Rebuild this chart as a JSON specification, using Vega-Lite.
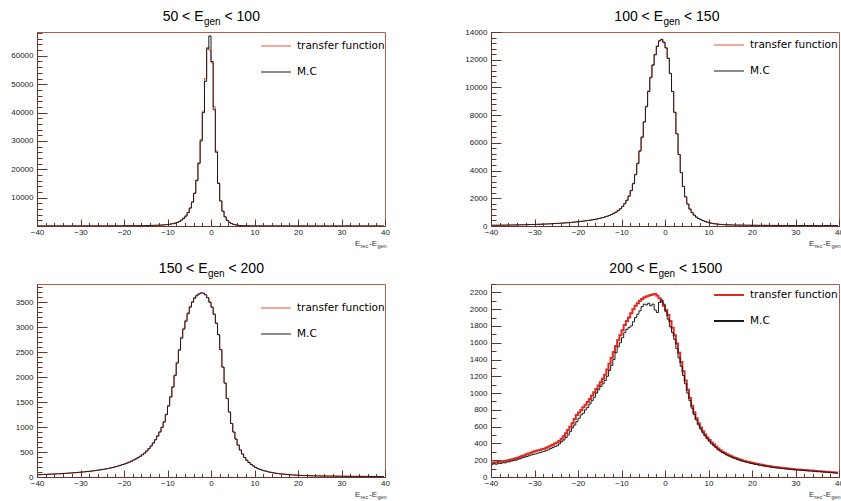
{
"$schema":"https://vega.github.io/schema/vega-lite/v6.json",
"background":"white",
"padding":{"left":10,"top":9,"right":0,"bottom":0},
"config":{"view":{"stroke":"#b0604a","strokeWidth":1},"font":"Liberation Sans","axis":{"grid":false,"title":null,"labelFont":"Liberation Sans","labelFontSize":8,"labelColor":"#222","domainColor":"#6a3428","tickColor":"#6a3428","labelFlush":false,"labelOverlap":false,"labelBound":false,"tickCount":200}},
"datasets":{"h":[
{"x":-39.75,"m1":20,"t1":20,"m2":50,"t2":51,"m3":45,"t3":46,"m4":150,"t4":168},
{"x":-39.25,"m1":20,"t1":20,"m2":52,"t2":52,"m3":47,"t3":47,"m4":158,"t4":172},
{"x":-38.75,"m1":21,"t1":21,"m2":54,"t2":55,"m3":49,"t3":50,"m4":152,"t4":176},
{"x":-38.25,"m1":21,"t1":21,"m2":56,"t2":56,"m3":51,"t3":51,"m4":165,"t4":180},
{"x":-37.75,"m1":22,"t1":22,"m2":58,"t2":59,"m3":53,"t3":54,"m4":160,"t4":184},
{"x":-37.25,"m1":22,"t1":22,"m2":60,"t2":60,"m3":55,"t3":55,"m4":170,"t4":188},
{"x":-36.75,"m1":23,"t1":23,"m2":62,"t2":63,"m3":57,"t3":58,"m4":168,"t4":192},
{"x":-36.25,"m1":23,"t1":23,"m2":65,"t2":65,"m3":59,"t3":59,"m4":178,"t4":197},
{"x":-35.75,"m1":24,"t1":24,"m2":68,"t2":68,"m3":61,"t3":62,"m4":182,"t4":202},
{"x":-35.25,"m1":24,"t1":24,"m2":71,"t2":71,"m3":63,"t3":64,"m4":190,"t4":208},
{"x":-34.75,"m1":25,"t1":25,"m2":74,"t2":74,"m3":66,"t3":66,"m4":195,"t4":215},
{"x":-34.25,"m1":25,"t1":25,"m2":77,"t2":78,"m3":68,"t3":69,"m4":200,"t4":222},
{"x":-33.75,"m1":26,"t1":26,"m2":80,"t2":81,"m3":71,"t3":72,"m4":212,"t4":230},
{"x":-33.25,"m1":26,"t1":26,"m2":84,"t2":84,"m3":74,"t3":74,"m4":218,"t4":240},
{"x":-32.75,"m1":27,"t1":27,"m2":88,"t2":88,"m3":77,"t3":78,"m4":228,"t4":250},
{"x":-32.25,"m1":27,"t1":27,"m2":92,"t2":93,"m3":80,"t3":81,"m4":235,"t4":260},
{"x":-31.75,"m1":28,"t1":28,"m2":96,"t2":97,"m3":83,"t3":84,"m4":245,"t4":270},
{"x":-31.25,"m1":28,"t1":28,"m2":100,"t2":101,"m3":86,"t3":87,"m4":252,"t4":280},
{"x":-30.75,"m1":29,"t1":29,"m2":105,"t2":106,"m3":90,"t3":91,"m4":262,"t4":290},
{"x":-30.25,"m1":30,"t1":30,"m2":110,"t2":111,"m3":94,"t3":95,"m4":270,"t4":300},
{"x":-29.75,"m1":31,"t1":31,"m2":115,"t2":116,"m3":98,"t3":99,"m4":275,"t4":310},
{"x":-29.25,"m1":32,"t1":32,"m2":120,"t2":121,"m3":102,"t3":103,"m4":285,"t4":316},
{"x":-28.75,"m1":33,"t1":33,"m2":126,"t2":127,"m3":106,"t3":107,"m4":290,"t4":322},
{"x":-28.25,"m1":34,"t1":34,"m2":132,"t2":133,"m3":111,"t3":112,"m4":298,"t4":330},
{"x":-27.75,"m1":35,"t1":35,"m2":138,"t2":139,"m3":116,"t3":117,"m4":305,"t4":338},
{"x":-27.25,"m1":36,"t1":36,"m2":145,"t2":146,"m3":121,"t3":122,"m4":318,"t4":348},
{"x":-26.75,"m1":37,"t1":37,"m2":152,"t2":153,"m3":127,"t3":128,"m4":325,"t4":360},
{"x":-26.25,"m1":38,"t1":38,"m2":160,"t2":161,"m3":133,"t3":134,"m4":340,"t4":372},
{"x":-25.75,"m1":40,"t1":40,"m2":168,"t2":169,"m3":139,"t3":140,"m4":350,"t4":385},
{"x":-25.25,"m1":42,"t1":42,"m2":177,"t2":178,"m3":146,"t3":147,"m4":362,"t4":398},
{"x":-24.75,"m1":44,"t1":44,"m2":186,"t2":187,"m3":153,"t3":154,"m4":372,"t4":412},
{"x":-24.25,"m1":46,"t1":46,"m2":196,"t2":197,"m3":160,"t3":161,"m4":395,"t4":430},
{"x":-23.75,"m1":48,"t1":48,"m2":206,"t2":207,"m3":168,"t3":169,"m4":420,"t4":455},
{"x":-23.25,"m1":50,"t1":50,"m2":217,"t2":218,"m3":177,"t3":178,"m4":440,"t4":485},
{"x":-22.75,"m1":53,"t1":53,"m2":229,"t2":230,"m3":187,"t3":188,"m4":470,"t4":520},
{"x":-22.25,"m1":56,"t1":56,"m2":241,"t2":242,"m3":198,"t3":199,"m4":500,"t4":560},
{"x":-21.75,"m1":59,"t1":59,"m2":254,"t2":255,"m3":210,"t3":211,"m4":540,"t4":600},
{"x":-21.25,"m1":63,"t1":63,"m2":268,"t2":269,"m3":222,"t3":223,"m4":585,"t4":640},
{"x":-20.75,"m1":67,"t1":67,"m2":283,"t2":284,"m3":235,"t3":236,"m4":620,"t4":690},
{"x":-20.25,"m1":71,"t1":71,"m2":299,"t2":300,"m3":249,"t3":250,"m4":660,"t4":740},
{"x":-19.75,"m1":76,"t1":76,"m2":316,"t2":317,"m3":264,"t3":265,"m4":700,"t4":770},
{"x":-19.25,"m1":81,"t1":81,"m2":334,"t2":335,"m3":280,"t3":281,"m4":740,"t4":795},
{"x":-18.75,"m1":87,"t1":87,"m2":353,"t2":354,"m3":298,"t3":299,"m4":760,"t4":830},
{"x":-18.25,"m1":93,"t1":93,"m2":373,"t2":374,"m3":318,"t3":319,"m4":800,"t4":860},
{"x":-17.75,"m1":100,"t1":100,"m2":394,"t2":396,"m3":340,"t3":341,"m4":830,"t4":895},
{"x":-17.25,"m1":108,"t1":108,"m2":417,"t2":419,"m3":363,"t3":364,"m4":870,"t4":930},
{"x":-16.75,"m1":117,"t1":117,"m2":442,"t2":444,"m3":388,"t3":390,"m4":910,"t4":970},
{"x":-16.25,"m1":127,"t1":127,"m2":470,"t2":472,"m3":415,"t3":417,"m4":950,"t4":1010},
{"x":-15.75,"m1":138,"t1":138,"m2":500,"t2":503,"m3":445,"t3":447,"m4":1000,"t4":1050},
{"x":-15.25,"m1":150,"t1":151,"m2":533,"t2":536,"m3":478,"t3":480,"m4":1040,"t4":1090},
{"x":-14.75,"m1":165,"t1":166,"m2":570,"t2":573,"m3":520,"t3":523,"m4":1080,"t4":1130},
{"x":-14.25,"m1":180,"t1":181,"m2":610,"t2":614,"m3":567,"t3":570,"m4":1110,"t4":1170},
{"x":-13.75,"m1":200,"t1":201,"m2":655,"t2":659,"m3":620,"t3":624,"m4":1150,"t4":1220},
{"x":-13.25,"m1":220,"t1":222,"m2":705,"t2":710,"m3":680,"t3":684,"m4":1200,"t4":1280},
{"x":-12.75,"m1":245,"t1":247,"m2":760,"t2":766,"m3":745,"t3":750,"m4":1270,"t4":1350},
{"x":-12.25,"m1":270,"t1":273,"m2":830,"t2":836,"m3":820,"t3":826,"m4":1330,"t4":1420},
{"x":-11.75,"m1":300,"t1":304,"m2":910,"t2":917,"m3":900,"t3":907,"m4":1400,"t4":1490},
{"x":-11.25,"m1":345,"t1":350,"m2":1000,"t2":1008,"m3":990,"t3":998,"m4":1480,"t4":1560},
{"x":-10.75,"m1":400,"t1":406,"m2":1110,"t2":1119,"m3":1100,"t3":1109,"m4":1550,"t4":1630},
{"x":-10.25,"m1":480,"t1":487,"m2":1240,"t2":1250,"m3":1250,"t3":1260,"m4":1600,"t4":1690},
{"x":-9.75,"m1":570,"t1":578,"m2":1400,"t2":1411,"m3":1420,"t3":1432,"m4":1660,"t4":1750},
{"x":-9.25,"m1":680,"t1":690,"m2":1600,"t2":1613,"m3":1600,"t3":1614,"m4":1720,"t4":1810},
{"x":-8.75,"m1":820,"t1":833,"m2":1850,"t2":1865,"m3":1800,"t3":1815,"m4":1760,"t4":1860},
{"x":-8.25,"m1":1000,"t1":1015,"m2":2150,"t2":2168,"m3":2030,"t3":2046,"m4":1780,"t4":1900},
{"x":-7.75,"m1":1250,"t1":1270,"m2":2550,"t2":2570,"m3":2280,"t3":2298,"m4":1800,"t4":1950},
{"x":-7.25,"m1":1600,"t1":1625,"m2":3050,"t2":3075,"m3":2540,"t3":2560,"m4":1850,"t4":2000},
{"x":-6.75,"m1":2100,"t1":2130,"m2":3700,"t2":3730,"m3":2780,"t3":2800,"m4":1900,"t4":2040},
{"x":-6.25,"m1":2700,"t1":2740,"m2":4500,"t2":4535,"m3":2960,"t3":2980,"m4":1940,"t4":2070},
{"x":-5.75,"m1":3500,"t1":3550,"m2":5400,"t2":5440,"m3":3120,"t3":3140,"m4":1980,"t4":2100},
{"x":-5.25,"m1":4700,"t1":4770,"m2":6400,"t2":6445,"m3":3270,"t3":3290,"m4":2030,"t4":2120},
{"x":-4.75,"m1":6300,"t1":6390,"m2":7500,"t2":7550,"m3":3400,"t3":3420,"m4":2060,"t4":2140},
{"x":-4.25,"m1":8400,"t1":8520,"m2":8600,"t2":8650,"m3":3500,"t3":3515,"m4":2050,"t4":2150},
{"x":-3.75,"m1":11500,"t1":11650,"m2":9700,"t2":9750,"m3":3580,"t3":3595,"m4":2070,"t4":2160},
{"x":-3.25,"m1":16000,"t1":16200,"m2":10700,"t2":10750,"m3":3630,"t3":3645,"m4":2040,"t4":2170},
{"x":-2.75,"m1":22000,"t1":22300,"m2":11600,"t2":11650,"m3":3665,"t3":3675,"m4":2060,"t4":2175},
{"x":-2.25,"m1":30000,"t1":30500,"m2":12350,"t2":12400,"m3":3685,"t3":3690,"m4":1990,"t4":2180},
{"x":-1.75,"m1":40000,"t1":40500,"m2":12950,"t2":13000,"m3":3680,"t3":3685,"m4":1960,"t4":2160},
{"x":-1.25,"m1":51000,"t1":52000,"m2":13350,"t2":13400,"m3":3650,"t3":3655,"m4":2080,"t4":2130},
{"x":-0.75,"m1":62500,"t1":63000,"m2":13450,"t2":13480,"m3":3590,"t3":3595,"m4":2110,"t4":2090},
{"x":-0.25,"m1":67000,"t1":62000,"m2":13250,"t2":13280,"m3":3500,"t3":3505,"m4":2060,"t4":2040},
{"x":0.25,"m1":58000,"t1":57500,"m2":12850,"t2":12870,"m3":3400,"t3":3405,"m4":1970,"t4":1990},
{"x":0.75,"m1":41000,"t1":42000,"m2":12100,"t2":12120,"m3":3260,"t3":3265,"m4":1880,"t4":1930},
{"x":1.25,"m1":26000,"t1":26500,"m2":11000,"t2":11020,"m3":3080,"t3":3085,"m4":1790,"t4":1860},
{"x":1.75,"m1":15000,"t1":15200,"m2":9700,"t2":9720,"m3":2850,"t3":2855,"m4":1720,"t4":1780},
{"x":2.25,"m1":8800,"t1":8900,"m2":8200,"t2":8220,"m3":2550,"t3":2555,"m4":1640,"t4":1690},
{"x":2.75,"m1":5200,"t1":5260,"m2":6650,"t2":6665,"m3":2200,"t3":2205,"m4":1530,"t4":1590},
{"x":3.25,"m1":3200,"t1":3240,"m2":5150,"t2":5160,"m3":1880,"t3":1884,"m4":1420,"t4":1480},
{"x":3.75,"m1":2000,"t1":2025,"m2":3850,"t2":3860,"m3":1570,"t3":1574,"m4":1320,"t4":1370},
{"x":4.25,"m1":1300,"t1":1315,"m2":2850,"t2":2857,"m3":1300,"t3":1303,"m4":1210,"t4":1260},
{"x":4.75,"m1":850,"t1":860,"m2":2100,"t2":2105,"m3":1070,"t3":1072,"m4":1110,"t4":1150},
{"x":5.25,"m1":560,"t1":566,"m2":1580,"t2":1584,"m3":900,"t3":902,"m4":1000,"t4":1040},
{"x":5.75,"m1":370,"t1":374,"m2":1220,"t2":1223,"m3":760,"t3":761,"m4":910,"t4":940},
{"x":6.25,"m1":250,"t1":253,"m2":960,"t2":962,"m3":640,"t3":641,"m4":820,"t4":850},
{"x":6.75,"m1":170,"t1":172,"m2":780,"t2":782,"m3":540,"t3":541,"m4":745,"t4":770},
{"x":7.25,"m1":120,"t1":121,"m2":640,"t2":641,"m3":460,"t3":461,"m4":680,"t4":700},
{"x":7.75,"m1":90,"t1":91,"m2":540,"t2":541,"m3":390,"t3":391,"m4":620,"t4":640},
{"x":8.25,"m1":70,"t1":70,"m2":460,"t2":461,"m3":335,"t3":336,"m4":570,"t4":590},
{"x":8.75,"m1":55,"t1":55,"m2":390,"t2":391,"m3":290,"t3":291,"m4":525,"t4":545},
{"x":9.25,"m1":45,"t1":45,"m2":330,"t2":331,"m3":252,"t3":253,"m4":490,"t4":505},
{"x":9.75,"m1":38,"t1":38,"m2":275,"t2":276,"m3":220,"t3":221,"m4":455,"t4":470},
{"x":10.25,"m1":33,"t1":33,"m2":230,"t2":231,"m3":193,"t3":194,"m4":425,"t4":440},
{"x":10.75,"m1":29,"t1":29,"m2":195,"t2":196,"m3":171,"t3":172,"m4":395,"t4":412},
{"x":11.25,"m1":26,"t1":26,"m2":168,"t2":169,"m3":153,"t3":154,"m4":372,"t4":386},
{"x":11.75,"m1":23,"t1":23,"m2":146,"t2":147,"m3":138,"t3":139,"m4":350,"t4":362},
{"x":12.25,"m1":21,"t1":21,"m2":128,"t2":129,"m3":125,"t3":126,"m4":325,"t4":340},
{"x":12.75,"m1":20,"t1":20,"m2":114,"t2":115,"m3":113,"t3":114,"m4":310,"t4":320},
{"x":13.25,"m1":19,"t1":19,"m2":103,"t2":104,"m3":102,"t3":103,"m4":292,"t4":302},
{"x":13.75,"m1":18,"t1":18,"m2":94,"t2":95,"m3":93,"t3":94,"m4":276,"t4":286},
{"x":14.25,"m1":17,"t1":17,"m2":87,"t2":88,"m3":85,"t3":86,"m4":262,"t4":272},
{"x":14.75,"m1":16,"t1":16,"m2":81,"t2":82,"m3":78,"t3":79,"m4":250,"t4":259},
{"x":15.25,"m1":16,"t1":16,"m2":76,"t2":77,"m3":71,"t3":72,"m4":240,"t4":247},
{"x":15.75,"m1":15,"t1":15,"m2":72,"t2":73,"m3":65,"t3":66,"m4":226,"t4":236},
{"x":16.25,"m1":15,"t1":15,"m2":68,"t2":69,"m3":60,"t3":61,"m4":218,"t4":226},
{"x":16.75,"m1":14,"t1":14,"m2":65,"t2":66,"m3":56,"t3":57,"m4":206,"t4":217},
{"x":17.25,"m1":14,"t1":14,"m2":62,"t2":63,"m3":52,"t3":53,"m4":200,"t4":208},
{"x":17.75,"m1":13,"t1":13,"m2":60,"t2":61,"m3":48,"t3":49,"m4":190,"t4":200},
{"x":18.25,"m1":13,"t1":13,"m2":58,"t2":59,"m3":45,"t3":46,"m4":184,"t4":192},
{"x":18.75,"m1":13,"t1":13,"m2":56,"t2":57,"m3":42,"t3":43,"m4":175,"t4":185},
{"x":19.25,"m1":12,"t1":12,"m2":54,"t2":55,"m3":39,"t3":40,"m4":170,"t4":178},
{"x":19.75,"m1":12,"t1":12,"m2":52,"t2":53,"m3":36,"t3":37,"m4":162,"t4":172},
{"x":20.25,"m1":12,"t1":12,"m2":50,"t2":51,"m3":34,"t3":35,"m4":158,"t4":166},
{"x":20.75,"m1":11,"t1":11,"m2":49,"t2":50,"m3":32,"t3":33,"m4":150,"t4":160},
{"x":21.25,"m1":11,"t1":11,"m2":48,"t2":49,"m3":30,"t3":31,"m4":148,"t4":155},
{"x":21.75,"m1":11,"t1":11,"m2":47,"t2":48,"m3":28,"t3":29,"m4":140,"t4":150},
{"x":22.25,"m1":11,"t1":11,"m2":46,"t2":47,"m3":26,"t3":27,"m4":138,"t4":145},
{"x":22.75,"m1":10,"t1":10,"m2":45,"t2":46,"m3":25,"t3":26,"m4":132,"t4":140},
{"x":23.25,"m1":10,"t1":10,"m2":44,"t2":45,"m3":24,"t3":25,"m4":128,"t4":135},
{"x":23.75,"m1":10,"t1":10,"m2":43,"t2":44,"m3":23,"t3":24,"m4":122,"t4":131},
{"x":24.25,"m1":10,"t1":10,"m2":42,"t2":43,"m3":22,"t3":23,"m4":120,"t4":127},
{"x":24.75,"m1":10,"t1":10,"m2":41,"t2":42,"m3":21,"t3":22,"m4":115,"t4":123},
{"x":25.25,"m1":9,"t1":9,"m2":40,"t2":41,"m3":20,"t3":21,"m4":112,"t4":119},
{"x":25.75,"m1":9,"t1":9,"m2":40,"t2":40,"m3":20,"t3":20,"m4":108,"t4":115},
{"x":26.25,"m1":9,"t1":9,"m2":39,"t2":40,"m3":19,"t3":20,"m4":106,"t4":112},
{"x":26.75,"m1":9,"t1":9,"m2":39,"t2":39,"m3":19,"t3":19,"m4":102,"t4":109},
{"x":27.25,"m1":9,"t1":9,"m2":38,"t2":39,"m3":18,"t3":19,"m4":100,"t4":106},
{"x":27.75,"m1":9,"t1":9,"m2":38,"t2":38,"m3":18,"t3":18,"m4":96,"t4":103},
{"x":28.25,"m1":9,"t1":9,"m2":37,"t2":38,"m3":17,"t3":18,"m4":95,"t4":100},
{"x":28.75,"m1":9,"t1":9,"m2":37,"t2":37,"m3":17,"t3":17,"m4":91,"t4":97},
{"x":29.25,"m1":9,"t1":9,"m2":36,"t2":37,"m3":16,"t3":17,"m4":88,"t4":94},
{"x":29.75,"m1":9,"t1":9,"m2":36,"t2":36,"m3":16,"t3":16,"m4":87,"t4":92},
{"x":30.25,"m1":9,"t1":9,"m2":35,"t2":36,"m3":15,"t3":16,"m4":84,"t4":90},
{"x":30.75,"m1":9,"t1":9,"m2":35,"t2":35,"m3":15,"t3":15,"m4":83,"t4":88},
{"x":31.25,"m1":9,"t1":9,"m2":34,"t2":35,"m3":14,"t3":15,"m4":80,"t4":86},
{"x":31.75,"m1":9,"t1":9,"m2":34,"t2":34,"m3":14,"t3":14,"m4":79,"t4":84},
{"x":32.25,"m1":8,"t1":8,"m2":33,"t2":34,"m3":13,"t3":14,"m4":76,"t4":82},
{"x":32.75,"m1":8,"t1":8,"m2":33,"t2":33,"m3":13,"t3":13,"m4":75,"t4":80},
{"x":33.25,"m1":8,"t1":8,"m2":33,"t2":33,"m3":13,"t3":13,"m4":72,"t4":78},
{"x":33.75,"m1":8,"t1":8,"m2":32,"t2":33,"m3":12,"t3":13,"m4":71,"t4":76},
{"x":34.25,"m1":8,"t1":8,"m2":32,"t2":32,"m3":12,"t3":12,"m4":68,"t4":74},
{"x":34.75,"m1":8,"t1":8,"m2":32,"t2":32,"m3":12,"t3":12,"m4":67,"t4":72},
{"x":35.25,"m1":8,"t1":8,"m2":31,"t2":32,"m3":12,"t3":12,"m4":64,"t4":70},
{"x":35.75,"m1":8,"t1":8,"m2":31,"t2":31,"m3":11,"t3":12,"m4":63,"t4":68},
{"x":36.25,"m1":8,"t1":8,"m2":31,"t2":31,"m3":11,"t3":11,"m4":60,"t4":66},
{"x":36.75,"m1":8,"t1":8,"m2":30,"t2":31,"m3":11,"t3":11,"m4":59,"t4":64},
{"x":37.25,"m1":8,"t1":8,"m2":30,"t2":30,"m3":11,"t3":11,"m4":56,"t4":62},
{"x":37.75,"m1":8,"t1":8,"m2":30,"t2":30,"m3":10,"t3":11,"m4":55,"t4":60},
{"x":38.25,"m1":8,"t1":8,"m2":29,"t2":30,"m3":10,"t3":10,"m4":52,"t4":58},
{"x":38.75,"m1":8,"t1":8,"m2":29,"t2":29,"m3":10,"t3":10,"m4":51,"t4":56},
{"x":39.25,"m1":8,"t1":8,"m2":29,"t2":29,"m3":10,"t3":10,"m4":48,"t4":54},
{"x":39.75,"m1":8,"t1":8,"m2":28,"t2":29,"m3":10,"t3":10,"m4":46,"t4":52}
]},
"bounds":"flush",
"columns":2,
"spacing":{"row":58,"column":106},
"resolve":{"scale":{"x":"independent","y":"independent","color":"independent"},"legend":{"color":"independent"}},
"concat":[
{"width":348,"height":194,"layer":[
 {"data":{"name":"h"},"transform":[{"fold":["t1","m1"],"as":["s","v"]},{"filter":"datum.s == 't1'"}],
  "mark":{"type":"line","interpolate":"step","strokeWidth":1,"clip":true},
  "encoding":{
   "x":{"field":"x","type":"quantitative","scale":{"domain":[-40,40],"nice":false,"zero":false},"axis":{"values":[-40,-38,-36,-34,-32,-30,-28,-26,-24,-22,-20,-18,-16,-14,-12,-10,-8,-6,-4,-2,0,2,4,6,8,10,12,14,16,18,20,22,24,26,28,30,32,34,36,38,40],"format":"d","tickCount":200,"labelOverlap":false,"labelExpr":"datum.value % 10 == 0 ? datum.label : ''","tickSize":{"condition":{"test":"datum.value % 10 == 0","value":-7},"value":-3.5},"labelPadding":9}},
   "y":{"field":"v","type":"quantitative","scale":{"domain":[0,68400],"nice":false},"axis":{"values":[0,2000,4000,6000,8000,10000,12000,14000,16000,18000,20000,22000,24000,26000,28000,30000,32000,34000,36000,38000,40000,42000,44000,46000,48000,50000,52000,54000,56000,58000,60000,62000,64000,66000,68000],"tickCount":200,"labelOverlap":false,"format":"d","labelExpr":"datum.value % 10000 == 0 && datum.value > 0 ? datum.label : ''","tickSize":{"condition":{"test":"datum.value % 10000 == 0","value":-10},"value":-5},"labelPadding":14}},
   "color":{"field":"s","type":"nominal","scale":{"domain":["t1","m1"],"range":["#e8503c","#1a1a1a"]},"legend":{"orient":"none","legendX":223,"legendY":4,"title":null,"symbolType":"stroke","symbolSize":900,"symbolStrokeWidth":1.2,"clipHeight":20,"rowPadding":6,"labelOffset":5,"labelFont":"DejaVu Sans","labelFontSize":10.5,"labelColor":"#000","padding":0,"labelExpr":"datum.label == 't1' ? 'transfer function' : 'M.C'"}}}},
 {"data":{"name":"h"},"transform":[{"fold":["t1","m1"],"as":["s","v"]},{"filter":"datum.s == 'm1'"}],
  "mark":{"type":"line","interpolate":"step","strokeWidth":1,"clip":true},
  "encoding":{"x":{"field":"x","type":"quantitative"},"y":{"field":"v","type":"quantitative"},"color":{"field":"s","type":"nominal"}}},
 {"data":{"values":[{}]},"mark":{"type":"text","text":"50 < E","x":166.5,"y":-11,"align":"right","baseline":"alphabetic","fontSize":14,"font":"Liberation Sans","color":"#000"}},
 {"data":{"values":[{}]},"mark":{"type":"text","text":"gen","x":167,"y":-7.5,"align":"left","baseline":"alphabetic","fontSize":10,"font":"Liberation Sans","color":"#000"}},
 {"data":{"values":[{}]},"mark":{"type":"text","text":"< 100","x":187.5,"y":-11,"align":"left","baseline":"alphabetic","fontSize":14,"font":"Liberation Sans","color":"#000"}},
 {"data":{"values":[{}]},"mark":{"type":"text","text":"E","x":318,"y":214,"align":"left","baseline":"alphabetic","fontSize":8,"font":"Liberation Sans","color":"#333"}},
 {"data":{"values":[{}]},"mark":{"type":"text","text":"rec","x":323.5,"y":216,"align":"left","baseline":"alphabetic","fontSize":5.5,"font":"Liberation Sans","color":"#333"}},
 {"data":{"values":[{}]},"mark":{"type":"text","text":"-E","x":332,"y":214,"align":"left","baseline":"alphabetic","fontSize":8,"font":"Liberation Sans","color":"#333"}},
 {"data":{"values":[{}]},"mark":{"type":"text","text":"gen","x":340.5,"y":216,"align":"left","baseline":"alphabetic","fontSize":5.5,"font":"Liberation Sans","color":"#333"}}
]},
{"width":348,"height":194,"layer":[
 {"data":{"name":"h"},"transform":[{"fold":["t2","m2"],"as":["s","v"]},{"filter":"datum.s == 't2'"}],
  "mark":{"type":"line","interpolate":"step","strokeWidth":1,"clip":true},
  "encoding":{
   "x":{"field":"x","type":"quantitative","scale":{"domain":[-40,40],"nice":false,"zero":false},"axis":{"values":[-40,-38,-36,-34,-32,-30,-28,-26,-24,-22,-20,-18,-16,-14,-12,-10,-8,-6,-4,-2,0,2,4,6,8,10,12,14,16,18,20,22,24,26,28,30,32,34,36,38,40],"format":"d","tickCount":200,"labelOverlap":false,"labelExpr":"datum.value % 10 == 0 ? datum.label : ''","tickSize":{"condition":{"test":"datum.value % 10 == 0","value":-7},"value":-3.5},"labelPadding":9}},
   "y":{"field":"v","type":"quantitative","scale":{"domain":[0,14000],"nice":false},"axis":{"values":[0,400,800,1200,1600,2000,2400,2800,3200,3600,4000,4400,4800,5200,5600,6000,6400,6800,7200,7600,8000,8400,8800,9200,9600,10000,10400,10800,11200,11600,12000,12400,12800,13200,13600,14000],"tickCount":200,"labelOverlap":false,"format":"d","labelExpr":"datum.value % 2000 == 0 ? datum.label : ''","tickSize":{"condition":{"test":"datum.value % 2000 == 0","value":-10},"value":-5},"labelPadding":14}},
   "color":{"field":"s","type":"nominal","scale":{"domain":["t2","m2"],"range":["#e8503c","#1a1a1a"]},"legend":{"orient":"none","legendX":222,"legendY":3,"title":null,"symbolType":"stroke","symbolSize":900,"symbolStrokeWidth":1.2,"clipHeight":20,"rowPadding":6,"labelOffset":5,"labelFont":"DejaVu Sans","labelFontSize":10.5,"labelColor":"#000","padding":0,"labelExpr":"datum.label == 't2' ? 'transfer function' : 'M.C'"}}}},
 {"data":{"name":"h"},"transform":[{"fold":["t2","m2"],"as":["s","v"]},{"filter":"datum.s == 'm2'"}],
  "mark":{"type":"line","interpolate":"step","strokeWidth":1,"clip":true},
  "encoding":{"x":{"field":"x","type":"quantitative"},"y":{"field":"v","type":"quantitative"},"color":{"field":"s","type":"nominal"}}},
 {"data":{"values":[{}]},"mark":{"type":"text","text":"100 < E","x":172,"y":-11,"align":"right","baseline":"alphabetic","fontSize":14,"font":"Liberation Sans","color":"#000"}},
 {"data":{"values":[{}]},"mark":{"type":"text","text":"gen","x":172.5,"y":-7.5,"align":"left","baseline":"alphabetic","fontSize":10,"font":"Liberation Sans","color":"#000"}},
 {"data":{"values":[{}]},"mark":{"type":"text","text":"< 150","x":193,"y":-11,"align":"left","baseline":"alphabetic","fontSize":14,"font":"Liberation Sans","color":"#000"}},
 {"data":{"values":[{}]},"mark":{"type":"text","text":"E","x":318,"y":214,"align":"left","baseline":"alphabetic","fontSize":8,"font":"Liberation Sans","color":"#333"}},
 {"data":{"values":[{}]},"mark":{"type":"text","text":"rec","x":323.5,"y":216,"align":"left","baseline":"alphabetic","fontSize":5.5,"font":"Liberation Sans","color":"#333"}},
 {"data":{"values":[{}]},"mark":{"type":"text","text":"-E","x":332,"y":214,"align":"left","baseline":"alphabetic","fontSize":8,"font":"Liberation Sans","color":"#333"}},
 {"data":{"values":[{}]},"mark":{"type":"text","text":"gen","x":340.5,"y":216,"align":"left","baseline":"alphabetic","fontSize":5.5,"font":"Liberation Sans","color":"#333"}}
]},
{"width":348,"height":193,"layer":[
 {"data":{"name":"h"},"transform":[{"fold":["t3","m3"],"as":["s","v"]},{"filter":"datum.s == 't3'"}],
  "mark":{"type":"line","interpolate":"step","strokeWidth":1,"clip":true},
  "encoding":{
   "x":{"field":"x","type":"quantitative","scale":{"domain":[-40,40],"nice":false,"zero":false},"axis":{"values":[-40,-38,-36,-34,-32,-30,-28,-26,-24,-22,-20,-18,-16,-14,-12,-10,-8,-6,-4,-2,0,2,4,6,8,10,12,14,16,18,20,22,24,26,28,30,32,34,36,38,40],"format":"d","tickCount":200,"labelOverlap":false,"labelExpr":"datum.value % 10 == 0 ? datum.label : ''","tickSize":{"condition":{"test":"datum.value % 10 == 0","value":-7},"value":-3.5},"labelPadding":9}},
   "y":{"field":"v","type":"quantitative","scale":{"domain":[0,3866],"nice":false},"axis":{"values":[0,100,200,300,400,500,600,700,800,900,1000,1100,1200,1300,1400,1500,1600,1700,1800,1900,2000,2100,2200,2300,2400,2500,2600,2700,2800,2900,3000,3100,3200,3300,3400,3500,3600,3700,3800],"tickCount":200,"labelOverlap":false,"format":"d","labelExpr":"datum.value % 500 == 0 ? datum.label : ''","tickSize":{"condition":{"test":"datum.value % 500 == 0","value":-10},"value":-5},"labelPadding":14}},
   "color":{"field":"s","type":"nominal","scale":{"domain":["t3","m3"],"range":["#e8503c","#1a1a1a"]},"legend":{"orient":"none","legendX":223,"legendY":14,"title":null,"symbolType":"stroke","symbolSize":900,"symbolStrokeWidth":1.2,"clipHeight":20,"rowPadding":6,"labelOffset":5,"labelFont":"DejaVu Sans","labelFontSize":10.5,"labelColor":"#000","padding":0,"labelExpr":"datum.label == 't3' ? 'transfer function' : 'M.C'"}}}},
 {"data":{"name":"h"},"transform":[{"fold":["t3","m3"],"as":["s","v"]},{"filter":"datum.s == 'm3'"}],
  "mark":{"type":"line","interpolate":"step","strokeWidth":1,"clip":true},
  "encoding":{"x":{"field":"x","type":"quantitative"},"y":{"field":"v","type":"quantitative"},"color":{"field":"s","type":"nominal"}}},
 {"data":{"values":[{}]},"mark":{"type":"text","text":"150 < E","x":170.5,"y":-11,"align":"right","baseline":"alphabetic","fontSize":14,"font":"Liberation Sans","color":"#000"}},
 {"data":{"values":[{}]},"mark":{"type":"text","text":"gen","x":171,"y":-7.5,"align":"left","baseline":"alphabetic","fontSize":10,"font":"Liberation Sans","color":"#000"}},
 {"data":{"values":[{}]},"mark":{"type":"text","text":"< 200","x":191.5,"y":-11,"align":"left","baseline":"alphabetic","fontSize":14,"font":"Liberation Sans","color":"#000"}},
 {"data":{"values":[{}]},"mark":{"type":"text","text":"E","x":318,"y":213,"align":"left","baseline":"alphabetic","fontSize":8,"font":"Liberation Sans","color":"#333"}},
 {"data":{"values":[{}]},"mark":{"type":"text","text":"rec","x":323.5,"y":215,"align":"left","baseline":"alphabetic","fontSize":5.5,"font":"Liberation Sans","color":"#333"}},
 {"data":{"values":[{}]},"mark":{"type":"text","text":"-E","x":332,"y":213,"align":"left","baseline":"alphabetic","fontSize":8,"font":"Liberation Sans","color":"#333"}},
 {"data":{"values":[{}]},"mark":{"type":"text","text":"gen","x":340.5,"y":215,"align":"left","baseline":"alphabetic","fontSize":5.5,"font":"Liberation Sans","color":"#333"}}
]},
{"width":348,"height":193,"layer":[
 {"data":{"name":"h"},"transform":[{"fold":["t4","m4"],"as":["s","v"]},{"filter":"datum.s == 't4'"}],
  "mark":{"type":"line","interpolate":"step","strokeWidth":2,"clip":true},
  "encoding":{
   "x":{"field":"x","type":"quantitative","scale":{"domain":[-40,40],"nice":false,"zero":false},"axis":{"values":[-40,-38,-36,-34,-32,-30,-28,-26,-24,-22,-20,-18,-16,-14,-12,-10,-8,-6,-4,-2,0,2,4,6,8,10,12,14,16,18,20,22,24,26,28,30,32,34,36,38,40],"format":"d","tickCount":200,"labelOverlap":false,"labelExpr":"datum.value % 10 == 0 ? datum.label : ''","tickSize":{"condition":{"test":"datum.value % 10 == 0","value":-7},"value":-3.5},"labelPadding":9}},
   "y":{"field":"v","type":"quantitative","scale":{"domain":[0,2300],"nice":false},"axis":{"values":[0,100,200,300,400,500,600,700,800,900,1000,1100,1200,1300,1400,1500,1600,1700,1800,1900,2000,2100,2200,2300],"tickCount":200,"labelOverlap":false,"format":"d","labelExpr":"datum.value % 200 == 0 ? datum.label : ''","tickSize":{"condition":{"test":"datum.value % 200 == 0","value":-10},"value":-5},"labelPadding":14}},
   "color":{"field":"s","type":"nominal","scale":{"domain":["t4","m4"],"range":["#dc2a24","#1a1a1a"]},"legend":{"orient":"none","legendX":222,"legendY":1,"title":null,"symbolType":"stroke","symbolSize":900,"symbolStrokeWidth":2,"clipHeight":20,"rowPadding":6,"labelOffset":5,"labelFont":"DejaVu Sans","labelFontSize":10.5,"labelColor":"#000","padding":0,"labelExpr":"datum.label == 't4' ? 'transfer function' : 'M.C'"}}}},
 {"data":{"name":"h"},"transform":[{"fold":["t4","m4"],"as":["s","v"]},{"filter":"datum.s == 'm4'"}],
  "mark":{"type":"line","interpolate":"step","strokeWidth":1,"clip":true},
  "encoding":{"x":{"field":"x","type":"quantitative"},"y":{"field":"v","type":"quantitative"},"color":{"field":"s","type":"nominal"}}},
 {"data":{"values":[{}]},"mark":{"type":"text","text":"200 < E","x":167,"y":-11,"align":"right","baseline":"alphabetic","fontSize":14,"font":"Liberation Sans","color":"#000"}},
 {"data":{"values":[{}]},"mark":{"type":"text","text":"gen","x":167.5,"y":-7.5,"align":"left","baseline":"alphabetic","fontSize":10,"font":"Liberation Sans","color":"#000"}},
 {"data":{"values":[{}]},"mark":{"type":"text","text":"< 1500","x":188,"y":-11,"align":"left","baseline":"alphabetic","fontSize":14,"font":"Liberation Sans","color":"#000"}},
 {"data":{"values":[{}]},"mark":{"type":"text","text":"E","x":318,"y":213,"align":"left","baseline":"alphabetic","fontSize":8,"font":"Liberation Sans","color":"#333"}},
 {"data":{"values":[{}]},"mark":{"type":"text","text":"rec","x":323.5,"y":215,"align":"left","baseline":"alphabetic","fontSize":5.5,"font":"Liberation Sans","color":"#333"}},
 {"data":{"values":[{}]},"mark":{"type":"text","text":"-E","x":332,"y":213,"align":"left","baseline":"alphabetic","fontSize":8,"font":"Liberation Sans","color":"#333"}},
 {"data":{"values":[{}]},"mark":{"type":"text","text":"gen","x":340.5,"y":215,"align":"left","baseline":"alphabetic","fontSize":5.5,"font":"Liberation Sans","color":"#333"}}
]}
]
}
